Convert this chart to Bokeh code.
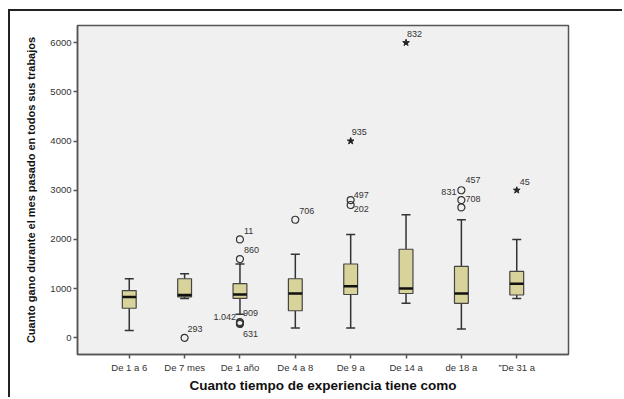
from bokeh.plotting import figure
from bokeh.models import FactorRange, Range1d, ColumnDataSource, Whisker, TeeHead, FixedTicker
from bokeh.core.properties import value
from bokeh.embed import file_html
from bokeh.resources import INLINE

# ---- data ----
categories = ["De 1 a 6", "De 7 mes", "De 1 año", "De 4 a 8", "De 9 a", "De 14 a", "de 18 a", "\u201dDe 31 a"]
whisker_low = [150, 800, 480, 200, 200, 700, 180, 800]
q1 = [600, 830, 800, 550, 880, 900, 700, 870]
median = [830, 870, 880, 900, 1050, 1000, 900, 1100]
q3 = [960, 1200, 1100, 1200, 1500, 1800, 1450, 1350]
whisker_high = [1200, 1300, 1500, 1700, 2100, 2500, 2400, 2000]

# outliers (circles)
out_cat = ["De 7 mes", "De 1 año", "De 1 año", "De 1 año", "De 1 año", "De 1 año",
           "De 4 a 8", "De 9 a", "De 9 a", "de 18 a", "de 18 a", "de 18 a"]
out_val = [0, 2000, 1600, 320, 300, 280, 2400, 2800, 2700, 3000, 2800, 2650]
out_lab = ["293", "11", "860", "1.042", "909", "631", "706", "497", "202", "457", "708", ""]

# extreme values (stars)
ext_cat = ["De 9 a", "De 14 a", "\u201dDe 31 a"]
ext_val = [4000, 6000, 3000]
ext_lab = ["935", "832", "45"]

# extra label on shared point (de 18 a, 3000)
extra_cat = ["de 18 a"]
extra_val = [3000]
extra_lab = ["831"]

y_ticks = [0, 1000, 2000, 3000, 4000, 5000, 6000]

# ---- label placement (screen px) ----
label_offsets = {
    "293": (3, -9), "11": (4, -8), "860": (4, -9), "1.042": (-4, -5), "909": (3, -10),
    "631": (3, 10), "706": (4, -9), "497": (3, -5), "202": (3, 4), "457": (4, -10),
    "708": (4, -1), "": (0, 0), "935": (1, -9), "832": (1, -9), "45": (3, -8),
}
left_labels = {"1.042"}

FONT = "Liberation Sans"

p = figure(width=614, height=388, output_backend="svg", toolbar_location=None,
           x_range=FactorRange(*categories, range_padding=0.435, range_padding_units="absolute"),
           y_range=Range1d(-340, 6350),
           min_border_left=67, min_border_right=56, min_border_top=14, min_border_bottom=45)
p.styles = {"margin-left": "8px", "margin-top": "9px",
            "border-left": "2px solid #222", "border-top": "2px solid #222"}

p.background_fill_color = "#f0f0f0"
p.border_fill_color = "white"
p.outline_line_color = "#555555"
p.outline_line_width = 1.5
p.grid.visible = False

for ax in (p.xaxis, p.yaxis):
    ax.axis_line_color = "#555555"
    ax.axis_line_width = 1.5
    ax.major_tick_line_color = "#555555"
    ax.major_tick_line_width = 1.5
    ax.major_tick_in = 0
    ax.major_tick_out = 4
    ax.minor_tick_line_color = None
    ax.major_label_text_font = FONT
    ax.major_label_text_font_size = "9.5px"
    ax.major_label_text_color = "#333333"
    ax.axis_label_text_font = FONT
    ax.axis_label_text_font_style = "bold"
    ax.axis_label_text_color = "#111111"

p.yaxis.ticker = FixedTicker(ticks=y_ticks)
p.yaxis.major_label_standoff = 2
p.yaxis.axis_label = "Cuanto gano durante el mes pasado en todos sus trabajos"
p.yaxis.axis_label_text_font_size = "11px"
p.yaxis.axis_label_standoff = 10
p.xaxis.axis_label = "Cuanto tiempo de experiencia tiene como"
p.xaxis.axis_label_text_font_size = "13.5px"
p.xaxis.axis_label_standoff = 2
p.xaxis.major_label_standoff = 3

box_src = ColumnDataSource(dict(cat=categories, lo=whisker_low, q1=q1, med=median, q3=q3, hi=whisker_high))

# whiskers
for lower, upper, head_side in (("q3", "hi", "upper"), ("lo", "q1", "lower")):
    w = Whisker(source=box_src, base="cat", lower=lower, upper=upper, dimension="height",
                line_color="#333333", line_width=1.5)
    if head_side == "upper":
        w.upper_head = TeeHead(size=9, line_color="#333333", line_width=1.5)
        w.lower_head = None
    else:
        w.lower_head = TeeHead(size=9, line_color="#333333", line_width=1.5)
        w.upper_head = None
    p.add_layout(w)

# boxes
p.vbar(x="cat", bottom="q1", top="q3", width=0.25, source=box_src,
       fill_color="#d8d39a", line_color="#444444", line_width=1.2)
# medians
p.vbar(x="cat", bottom="med", top="med", width=0.25, source=box_src,
       fill_color=None, line_color="#111111", line_width=2.5)

# outliers
out_src = ColumnDataSource(dict(cat=out_cat, val=out_val, lab=out_lab,
                                dx=[label_offsets[l][0] for l in out_lab],
                                dy=[label_offsets[l][1] for l in out_lab],
                                al=["right" if l in left_labels else "left" for l in out_lab]))
p.scatter(x="cat", y="val", source=out_src, marker="circle", size=7,
          fill_color=None, line_color="#333333", line_width=1.2)
p.text(x="cat", y="val", text="lab", source=out_src, x_offset="dx", y_offset="dy",
       text_font=value(FONT), text_font_size="9px", text_color="#333333",
       text_baseline="middle", text_align="al")

ext_src = ColumnDataSource(dict(cat=ext_cat, val=ext_val, lab=ext_lab,
                                dx=[label_offsets[l][0] for l in ext_lab],
                                dy=[label_offsets[l][1] for l in ext_lab]))
p.scatter(x="cat", y="val", source=ext_src, marker="star", size=7,
          fill_color="#222222", line_color="#222222")
p.text(x="cat", y="val", text="lab", source=ext_src, x_offset="dx", y_offset="dy",
       text_font=value(FONT), text_font_size="9px", text_color="#333333",
       text_baseline="middle", text_align="left")

extra_src = ColumnDataSource(dict(cat=extra_cat, val=extra_val, lab=extra_lab))
p.text(x="cat", y="val", text="lab", source=extra_src, x_offset=-5, y_offset=2,
       text_font=value(FONT), text_font_size="9px", text_color="#333333",
       text_baseline="middle", text_align="right")

open("out.html", "w").write(file_html(p, INLINE))
